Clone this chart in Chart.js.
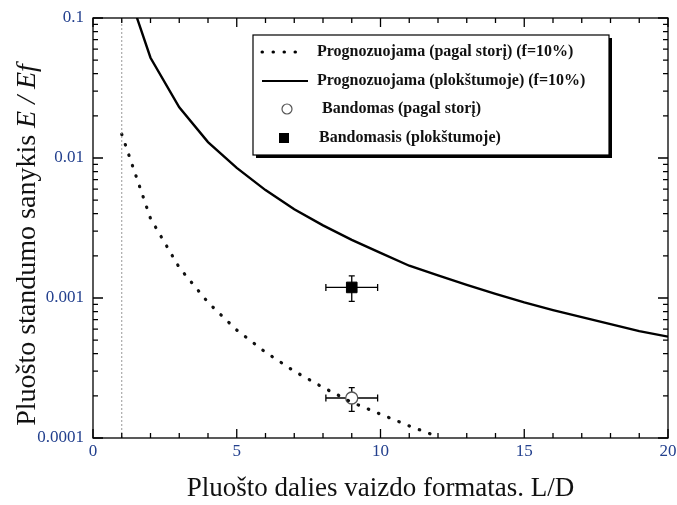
<!DOCTYPE html>
<html lang="lt">
<head>
<meta charset="UTF-8" />
<title>Pluošto standumo sanykis</title>
<style>
  * { margin: 0; padding: 0; }
  body { background: #fff; }
  .chartBox { width: 677px; height: 505px; }
</style>
</head>
<body>
<div class="chartBox"><canvas id="myChart" width="677" height="505"></canvas></div>

<script src="https://cdn.jsdelivr.net/npm/chart.js"></script>
<script>
  // values
  const planeLD = [1, 2, 3, 4, 5, 6, 7, 8, 9, 10, 11, 12, 13, 14, 15, 16, 17, 18, 19, 20];
  const planeE = [0.21, 0.052, 0.023, 0.013, 0.0085, 0.0059, 0.0043, 0.0033, 0.0026, 0.0021,
                  0.0017, 0.00145, 0.00124, 0.00107, 0.00093, 0.00082, 0.00073, 0.00065, 0.00058, 0.00053];
  const thickLD = [1, 2, 3, 4, 5, 6, 7, 8, 9, 10, 11, 12];
  const thickE = [0.0148, 0.0037, 0.00165, 0.00093, 0.00059, 0.00041, 0.0003, 0.00023, 0.00018,
                  0.000148, 0.000122, 0.000102];
  const refLD = [1, 1];
  const refE = [0.0001, 0.1];

  const testLD = [9];
  const testThickE = [0.000193];
  const testThickLow = [0.000155];
  const testThickHigh = [0.000229];
  const testPlaneE = [0.00119];
  const testPlaneLow = [0.000946];
  const testPlaneHigh = [0.00144];
  const testLDErr = [0.9];

  const yMajor = [0.0001, 0.001, 0.01, 0.1];
  const yTickLabels = ["0.0001", "0.001", "0.01", "0.1"];
  const legendLabels = [
    "Prognozuojama (pagal storį) (f=10%)",
    "Prognozuojama (plokštumoje) (f=10%)",
    "Bandomas (pagal storį)",
    "Bandomasis (plokštumoje)"
  ];
  const xTitle = "Pluošto dalies vaizdo formatas. L/D";
  const yTitleMain = "Pluošto standumo sanykis ";
  const yTitleItalic = "E / Ef";

  const serif = "'Liberation Serif', 'Times New Roman', serif";
  const tickColor = "#23408e";

  const pts = (xs, ys) => xs.map((x, i) => ({ x, y: ys[i] }));

  // axes frame, inward ticks, error bars, legend and y title
  const framePlugin = {
    id: "frame",
    beforeDatasetsDraw(chart) {
      const { ctx, scales: { x, y } } = chart;
      ctx.save();
      ctx.strokeStyle = "#000";
      ctx.lineWidth = 1.3;
      const bars = [
        [testThickE, testThickLow, testThickHigh],
        [testPlaneE, testPlaneLow, testPlaneHigh]
      ];
      bars.forEach(([mid, low, high]) => {
        testLD.forEach((ld, i) => {
          const px = x.getPixelForValue(ld);
          const py = y.getPixelForValue(mid[i]);
          const x0 = x.getPixelForValue(ld - testLDErr[i]);
          const x1 = x.getPixelForValue(ld + testLDErr[i]);
          const y0 = y.getPixelForValue(high[i]);
          const y1 = y.getPixelForValue(low[i]);
          ctx.beginPath();
          ctx.moveTo(x0, py); ctx.lineTo(x1, py);
          ctx.moveTo(x0, py - 3.5); ctx.lineTo(x0, py + 3.5);
          ctx.moveTo(x1, py - 3.5); ctx.lineTo(x1, py + 3.5);
          ctx.moveTo(px, y0); ctx.lineTo(px, y1);
          ctx.moveTo(px - 3, y0); ctx.lineTo(px + 3, y0);
          ctx.moveTo(px - 3, y1); ctx.lineTo(px + 3, y1);
          ctx.stroke();
        });
      });
      ctx.restore();
    },
    afterDraw(chart) {
      const { ctx, chartArea: a, scales: { x, y } } = chart;
      ctx.save();
      ctx.strokeStyle = "#000";
      ctx.lineWidth = 1.3;
      ctx.strokeRect(a.left, a.top, a.right - a.left, a.bottom - a.top);

      ctx.beginPath();
      for (let v = 0; v <= 20; v++) {
        const px = x.getPixelForValue(v);
        const len = v % 5 === 0 ? 9 : 5;
        ctx.moveTo(px, a.bottom); ctx.lineTo(px, a.bottom - len);
        ctx.moveTo(px, a.top); ctx.lineTo(px, a.top + len);
      }
      yMajor.forEach((d) => {
        for (let m = 1; m <= 9; m++) {
          const v = d * m;
          if (v > 0.1 + 1e-12) break;
          const py = y.getPixelForValue(v);
          const len = m === 1 ? 10 : 5;
          ctx.moveTo(a.left, py); ctx.lineTo(a.left + len, py);
          ctx.moveTo(a.right, py); ctx.lineTo(a.right - len, py);
        }
      });
      ctx.stroke();

      // legend
      const lx = 253, ly = 35, lw = 356, lh = 120;
      ctx.fillStyle = "#000";
      ctx.fillRect(lx + 3, ly + 3, lw, lh);
      ctx.fillStyle = "#fff";
      ctx.fillRect(lx, ly, lw, lh);
      ctx.lineWidth = 1.2;
      ctx.strokeRect(lx, ly, lw, lh);

      const rows = [52, 81, 109, 138];
      const textX = [317, 317, 322, 319];
      ctx.strokeStyle = "#000";
      ctx.lineWidth = 3;
      ctx.lineCap = "round";
      ctx.setLineDash([0.5, 10.5]);
      ctx.beginPath(); ctx.moveTo(262, rows[0]); ctx.lineTo(306, rows[0]); ctx.stroke();
      ctx.setLineDash([]);
      ctx.lineCap = "butt";
      ctx.lineWidth = 2.2;
      ctx.beginPath(); ctx.moveTo(262, rows[1]); ctx.lineTo(308, rows[1]); ctx.stroke();
      ctx.lineWidth = 1.2;
      ctx.strokeStyle = "#555";
      ctx.beginPath(); ctx.arc(287, rows[2], 5, 0, Math.PI * 2); ctx.stroke();
      ctx.fillStyle = "#000";
      ctx.fillRect(279, rows[3] - 5, 10, 10);

      ctx.fillStyle = "#111";
      ctx.font = "bold 16px " + serif;
      ctx.textBaseline = "middle";
      legendLabels.forEach((t, i) => ctx.fillText(t, textX[i], rows[i]));

      // y title with italic part
      ctx.translate(28, 245);
      ctx.rotate(-Math.PI / 2);
      const f1 = "28px " + serif, f2 = "italic 28px " + serif;
      ctx.font = f1; const w1 = ctx.measureText(yTitleMain).width;
      ctx.font = f2; const w2 = ctx.measureText(yTitleItalic).width;
      let sx = -(w1 + w2) / 2;
      ctx.fillStyle = "#111";
      ctx.font = f1; ctx.fillText(yTitleMain, sx, 0);
      ctx.font = f2; ctx.fillText(yTitleItalic, sx + w1, 0);
      ctx.restore();
    }
  };

  const data = {
    datasets: [
      {
        label: "ref",
        data: pts(refLD, refE),
        borderColor: "#999",
        borderWidth: 1,
        borderDash: [2, 2],
        pointRadius: 0
      },
      {
        label: legendLabels[0],
        data: pts(thickLD, thickE),
        borderColor: "#111",
        borderWidth: 3.2,
        borderDash: [0.5, 10.5],
        borderCapStyle: "round",
        pointRadius: 0
      },
      {
        label: legendLabels[1],
        data: pts(planeLD, planeE),
        borderColor: "#000",
        borderWidth: 2.4,
        pointRadius: 0
      },
      {
        label: legendLabels[2],
        data: pts(testLD, testThickE),
        showLine: false,
        pointRadius: 6,
        pointBackgroundColor: "#fff",
        pointBorderColor: "#555",
        pointBorderWidth: 1.3
      },
      {
        label: legendLabels[3],
        data: pts(testLD, testPlaneE),
        showLine: false,
        pointStyle: "rect",
        pointRadius: 7.5,
        pointBackgroundColor: "#000",
        pointBorderColor: "#000",
        pointBorderWidth: 1
      }
    ]
  };

  const config = {
    type: "line",
    data,
    options: {
      responsive: false,
      animation: false,
      devicePixelRatio: 1,
      layout: { padding: { top: 18, right: 9, left: 0, bottom: 0 } },
      elements: { line: { tension: 0 } },
      plugins: { legend: { display: false }, tooltip: { enabled: false } },
      scales: {
        x: {
          type: "linear",
          min: 0,
          max: 20,
          grid: { display: false, drawTicks: false },
          border: { display: false },
          ticks: {
            stepSize: 5,
            padding: 3,
            color: tickColor,
            font: { family: serif, size: 17 }
          },
          title: {
            display: true,
            text: xTitle,
            color: "#111",
            font: { family: serif, size: 27 },
            padding: { top: 0, bottom: 0 }
          },
          afterFit(scale) {
            scale.height = 67;
            scale.paddingLeft = 0;
            scale.paddingRight = 0;
          }
        },
        y: {
          type: "logarithmic",
          min: 0.0001,
          max: 0.1,
          grid: { display: false, drawTicks: false },
          border: { display: false },
          afterBuildTicks(scale) { scale.ticks = yMajor.map((v) => ({ value: v })); },
          ticks: {
            autoSkip: false,
            padding: 9,
            color: tickColor,
            font: { family: serif, size: 17 },
            callback: (v) => {
              const i = yMajor.findIndex((m) => Math.abs(m - v) / m < 1e-6);
              return i >= 0 ? yTickLabels[i] : "";
            }
          },
          afterFit(scale) {
            scale.width = 93;
            scale.paddingTop = 0;
            scale.paddingBottom = 0;
          }
        }
      }
    },
    plugins: [framePlugin]
  };

  const myChart = new Chart(document.getElementById("myChart"), config);
</script>
</body>
</html>
